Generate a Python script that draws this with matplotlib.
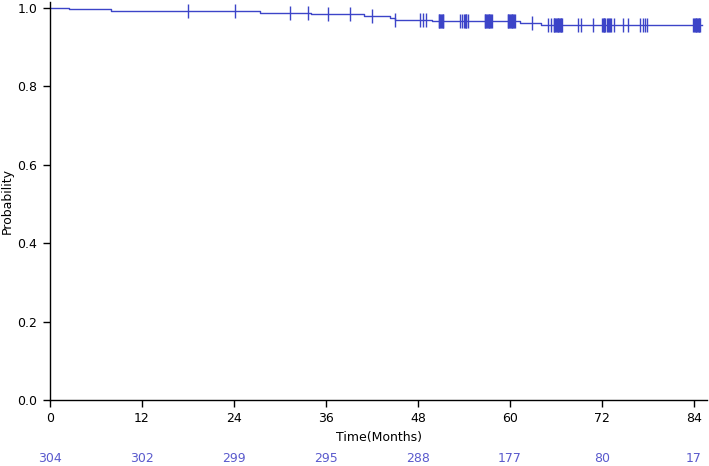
import numpy as np
import matplotlib
matplotlib.use("Agg")
import matplotlib.pyplot as plt

# Kaplan-Meier step curve (event times, survival after each event)
event_times = [0.0, 2.5, 8.0, 27.4, 34.1, 40.9, 44.3, 45.0, 49.8, 61.3, 64.1]
survival = [1.0, 0.9967, 0.9934, 0.9862, 0.9835, 0.9792, 0.9735, 0.9698, 0.9672, 0.9622, 0.9560]
end_time = 85.0

# Censoring times
censor_times = [18.0, 24.1, 31.3, 33.7, 36.2, 39.1, 42.0, 45.0, 48.3, 48.7, 49.0,
                50.7, 50.8, 50.9, 51.0, 51.1, 51.2, 51.3,
                53.5, 53.8, 54.0, 54.1, 54.2, 54.3, 54.5,
                56.7, 56.8, 56.9, 57.0, 57.1, 57.2, 57.3, 57.4, 57.5, 57.6,
                59.7, 59.8, 59.9, 60.0, 60.1, 60.2, 60.3, 60.4, 60.5, 60.6,
                62.9, 65.0, 65.3,
                65.7, 65.8, 65.9, 66.0, 66.1, 66.2, 66.3, 66.4, 66.5, 66.6, 66.7, 66.8,
                68.9, 69.3, 70.8,
                72.0, 72.1, 72.2, 72.3, 72.4, 72.6, 72.8, 72.9, 73.0, 73.2, 73.5,
                74.7, 75.4, 77.0, 77.3, 77.6, 77.9,
                83.9, 84.0, 84.1, 84.2, 84.3, 84.4, 84.5, 84.6, 84.7, 84.8]

xticks = [0, 12, 24, 36, 48, 60, 72, 84]
at_risk = [304, 302, 299, 295, 288, 177, 80, 17]
yticks = [0.0, 0.2, 0.4, 0.6, 0.8, 1.0]

line_color = "#3C44C8"
num_color = "#5A5ACD"

fig = plt.figure(figsize=(7.09, 4.66), dpi=100)
W, H = 709, 466
left, right, bottom, top = 50, 707, 400, 2
ax = fig.add_axes([left / W, (H - bottom) / H, (right - left) / W, (bottom - top) / H])

xs = list(event_times) + [end_time]
ys = list(survival) + [survival[-1]]
ax.step(xs, ys, where="post", color=line_color, lw=1.0)

et = np.array(event_times)
sv = np.array(survival)
idx = np.searchsorted(et, np.array(censor_times), side="right") - 1
ax.plot(censor_times, sv[idx], linestyle="none", marker="|", markersize=10,
        markeredgewidth=1.0, color=line_color)

xmax = (right - left) / ((694 - 50) / 84.0)
ax.set_xlim(0, xmax)
ax.set_ylim(0, 1 + 6 / 392)
ax.set_xticks(xticks)
ax.set_xticklabels([str(t) for t in xticks])
ax.set_yticks(yticks)
ax.set_yticklabels([f"{v:.1f}" for v in yticks])
for s in ["top", "right"]:
    ax.spines[s].set_visible(False)
for s in ["left", "bottom"]:
    ax.spines[s].set_linewidth(1.0)
    ax.spines[s].set_color("black")
ax.tick_params(direction="out", length=5, width=1, labelsize=9, colors="black", pad=4)
ax.set_xlabel("Time(Months)", fontsize=9, labelpad=4)
ax.set_ylabel("Probability", fontsize=9, labelpad=3)

for t, n in zip(xticks, at_risk):
    ax.annotate(str(n), xy=(t, 0), xycoords=("data", "axes fraction"),
                xytext=(0, -42), textcoords="offset points", ha="center", va="center",
                fontsize=9, color=num_color, annotation_clip=False)

fig.savefig("out.png", dpi=100)
